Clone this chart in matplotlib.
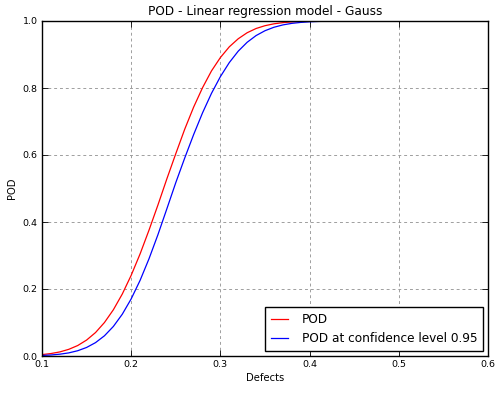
import matplotlib
matplotlib.use("Agg")
import matplotlib.pyplot as plt

defects = [0.10, 0.11, 0.12, 0.13, 0.14, 0.15, 0.16, 0.17, 0.18, 0.19,
           0.20, 0.21, 0.22, 0.23, 0.24, 0.25, 0.26, 0.27, 0.28, 0.29,
           0.30, 0.31, 0.32, 0.33, 0.34, 0.35, 0.36, 0.37, 0.38, 0.39,
           0.40, 0.41, 0.42, 0.43, 0.44, 0.45, 0.50, 0.55, 0.60]

pod = [0.0042, 0.0073, 0.0122, 0.0199, 0.0312, 0.0476, 0.070, 0.0999, 0.138, 0.185,
       0.241, 0.305, 0.376, 0.451, 0.529, 0.604, 0.677, 0.743, 0.801, 0.851,
       0.891, 0.923, 0.947, 0.965, 0.9776, 0.986, 0.9916, 0.9951, 0.9973, 0.9985,
       0.9992, 0.9996, 0.9998, 0.9999, 1.0, 1.0, 1.0, 1.0, 1.0]

pod_conf = [0.0016, 0.0030, 0.0054, 0.0093, 0.0157, 0.0255, 0.0399, 0.0603, 0.0882, 0.1247,
            0.1706, 0.226, 0.2905, 0.3624, 0.4396, 0.5177, 0.591, 0.661, 0.726, 0.784,
            0.834, 0.876, 0.910, 0.9365, 0.9565, 0.971, 0.9813, 0.9883, 0.9929, 0.9958,
            0.9976, 0.9987, 0.9993, 0.9997, 0.9998, 0.9999, 1.0, 1.0, 1.0]

xticks = [0.1, 0.2, 0.3, 0.4, 0.5, 0.6]
yticks = [0.0, 0.2, 0.4, 0.6, 0.8, 1.0]

fig = plt.figure(figsize=(5.03, 3.93), dpi=100)
ax = fig.add_axes([42/503, 37/393, 446/503, 335/393])

ax.plot(defects, pod, color="red", lw=0.9, label="POD")
ax.plot(defects, pod_conf, color="blue", lw=0.9, label="POD at confidence level 0.95")

ax.set_xlim(0.1, 0.6)
ax.set_ylim(0.0, 1.0)
ax.set_xticks(xticks)
ax.set_yticks(yticks)
ax.set_xticklabels([f"{t:.1f}" for t in xticks])
ax.set_yticklabels([f"{t:.1f}" for t in yticks])
ax.tick_params(direction="in", top=True, right=True, labelsize=6.8, length=4, width=0.6, pad=3)
ax.grid(True, color="0.62", linestyle=(0, (3, 3)), linewidth=0.7)
for s in ax.spines.values():
    s.set_linewidth(1.0)

ax.set_title("POD - Linear regression model - Gauss", fontsize=8.7, pad=4)
ax.set_xlabel("Defects", fontsize=7.2, labelpad=3)
ax.set_ylabel("POD", fontsize=7.2, labelpad=4)

leg = ax.legend(loc="lower right", fontsize=8.7, fancybox=False, framealpha=1,
                edgecolor="black", handlelength=1.4, handletextpad=1.1,
                borderpad=0.5, borderaxespad=0.4)
leg.get_frame().set_linewidth(1.0)

fig.savefig("out.png", dpi=100)
